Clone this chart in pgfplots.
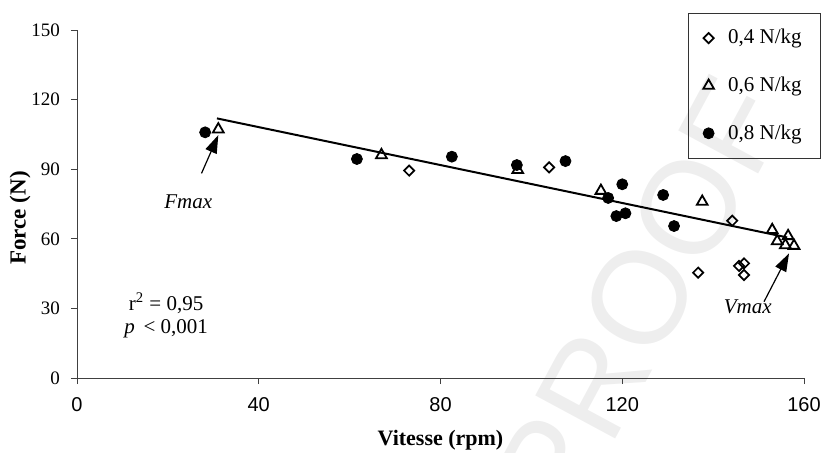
\documentclass[border=0pt]{standalone}
\usepackage{fontspec}
\setmainfont{Liberation Serif}
\newfontfamily\arialf{Liberation Sans}
\usepackage{pgfplots}
\pgfplotsset{compat=1.18}
\usetikzlibrary{arrows.meta}

\begin{document}
\begin{tikzpicture}
% page = 822x452 px, 1 px = 0.5pt, axis origin at px (77,378)
\useasboundingbox (-38.5pt,-37pt) rectangle (372.5pt,189pt);
% watermark
\node[rotate=61.7, text=gray!13, font=\arialf\fontsize{66}{66}\selectfont] at (281.5pt,40pt) {PROOF};
\begin{axis}[
    at={(0,0)}, anchor=south west,
    scale only axis, width=363.5pt, height=174pt,
    xmin=0, xmax=160, ymin=0, ymax=150,
    xtick={0,40,...,160}, ytick={0,30,...,150},
    axis x line=bottom, axis y line=left,
    axis line style={-, black!75, line width=0.5pt},
    tick style={black!75, line width=0.5pt}, tick align=outside, major tick length=3pt,
    /pgf/number format/assume math mode=true,
    x tick label style={font=\arialf\fontsize{10}{12}\selectfont, yshift=-3pt},
    y tick label style={font=\fontsize{9.5}{11}\selectfont, xshift=-2pt},
    xlabel={Vitesse (rpm)}, ylabel={Force (N)},
    xlabel style={font=\bfseries\fontsize{11}{13}\selectfont, at={(axis description cs:0.5,-0.178)}, anchor=center},
    ylabel style={font=\bfseries\fontsize{11.5}{13}\selectfont, at={(axis description cs:-0.0784,0.46)}, anchor=center},
    legend style={at={(axis description cs:1.0234,1.049)}, anchor=north east,
        draw=black!80, font=\fontsize{10.5}{12}\selectfont, fill=none,
        row sep=11pt, column sep=5pt, inner xsep=7.5pt, inner ysep=6pt},
    legend cell align=left,
    clip=false,
]
\addplot[only marks, mark=square, mark size=1.8pt, mark options={rotate=45, line width=0.85pt, fill=white}] coordinates {
(73.1,89.4)(103.9,90.8)(136.7,45.4)(144.2,67.8)(145.7,48.3)(146.8,49.4)(146.8,44.4)
};
\addlegendentry{0,4 N/kg}
\addplot[only marks, mark=triangle, mark size=3.1pt, mark options={line width=0.9pt, fill=white}] coordinates {
(31.1,107.2)(67,96.1)(97,89.7)(115.3,80.7)(137.6,76)(153,63.8)(154.1,59)(156.5,61.2)(155.9,57.3)(157.8,57)
};
\addlegendentry{0,6 N/kg}
\addplot[only marks, mark=*, mark size=2.75pt, mark options={fill=black}] coordinates {
(28.2,105.9)(61.6,94.4)(82.5,95.4)(96.8,91.8)(107.5,93.5)(116.9,77.6)(120,83.5)(118.7,69.8)(120.7,71)(129,78.9)(131.4,65.5)
};
\addlegendentry{0,8 N/kg}
% regression line
\addplot[black, line width=1pt, forget plot] coordinates {(30.8,111.9)(156.3,60.6)};

\draw[line width=0.6pt, -{Triangle[length=9pt,width=6pt]}] (axis cs:27.4,88.2) -- (axis cs:31.1,104.7);
\node[font=\itshape\fontsize{10.5}{12}\selectfont] at (axis cs:24.5,76) {Fmax};
\draw[line width=0.6pt, -{Triangle[length=9pt,width=6pt]}] (axis cs:151.2,32.9) -- (axis cs:156.7,53.7);
\node[font=\itshape\fontsize{10.5}{12}\selectfont] at (axis cs:147.6,30.5) {Vmax};
\node[font=\fontsize{10.5}{12}\selectfont] at (axis cs:19.6,32.3) {r\textsuperscript{2} = 0,95};
\node[font=\fontsize{10.5}{12}\selectfont] at (axis cs:19.6,21.1) {\textit{p}\, < 0,001};
\end{axis}
\end{tikzpicture}
\end{document}
